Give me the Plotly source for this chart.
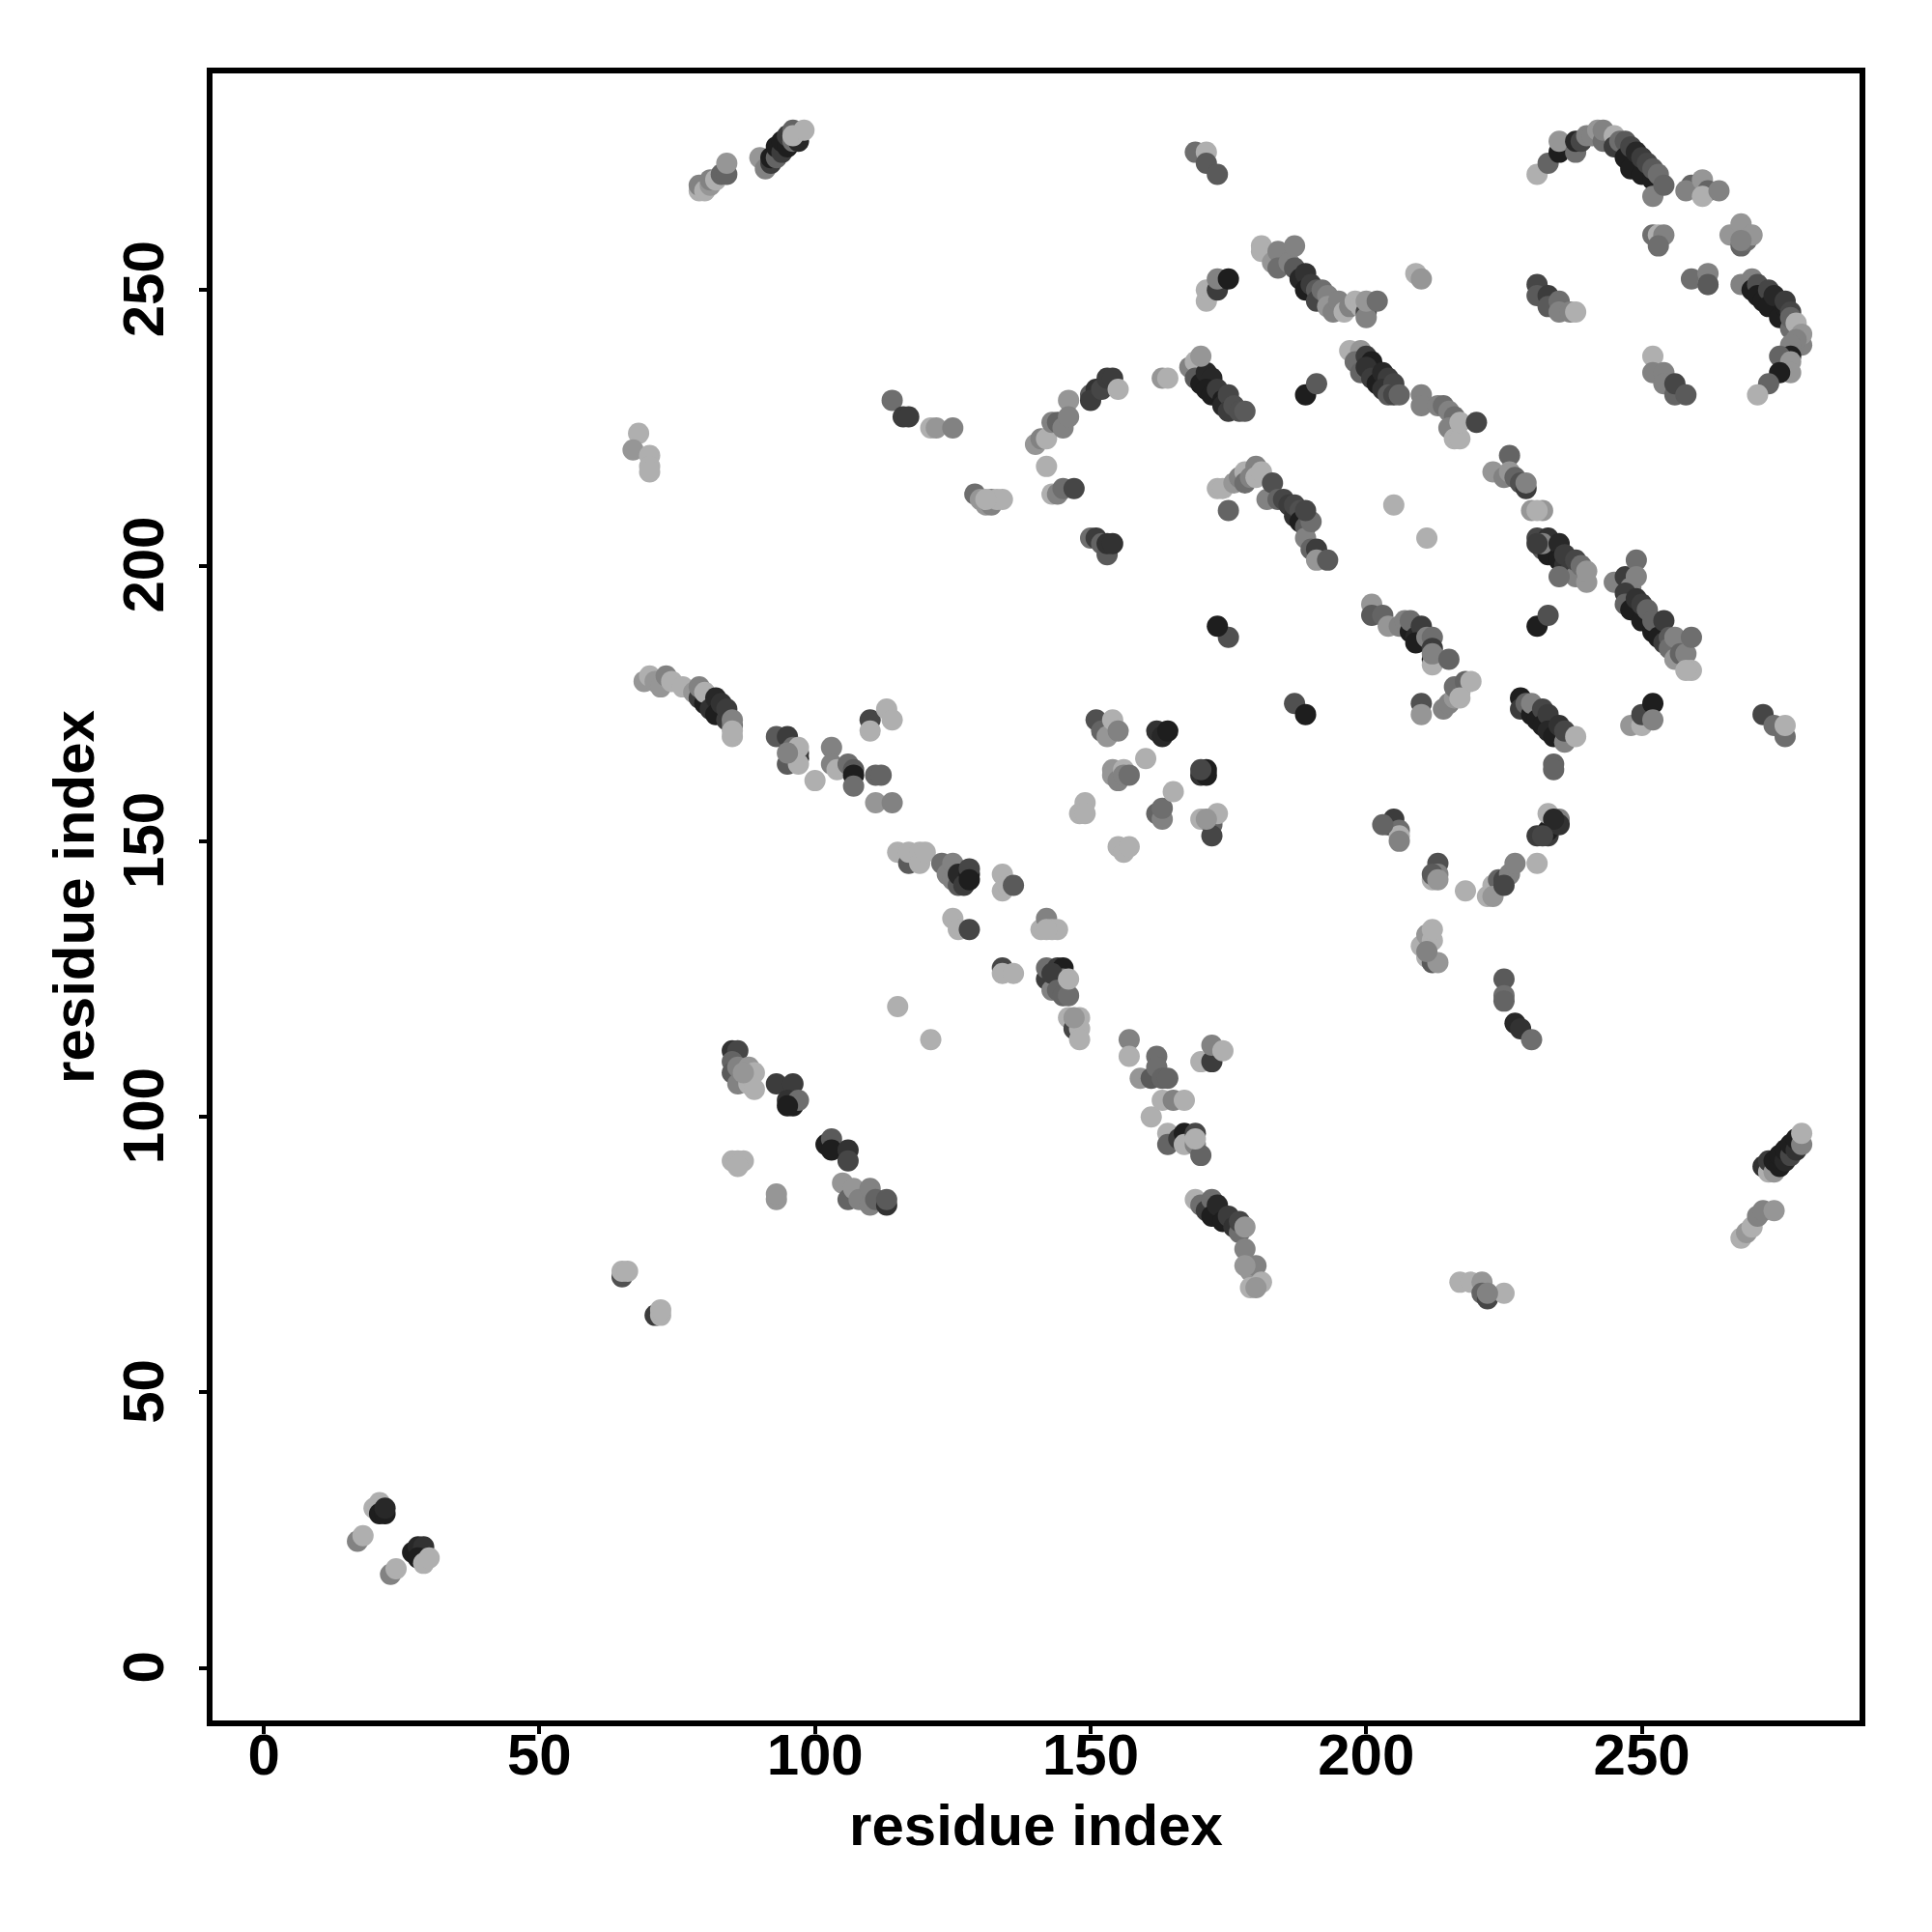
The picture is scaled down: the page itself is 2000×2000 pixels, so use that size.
import plotly.graph_objects as go

residue_i = [
 20,21,21,22,22, 17,18,23,24, 27,28,29,28,29,30,
 65,65,66, 71,72,72, 68,67,70,70,70,
 79,79,80,81,81,82,83,84,84,
 90,91,92,92,93,93,94,94,95,95,96,96,97,97,96,98,
 169,171,171,173,
 69,70,71,72,73,74,76,78,79,79,80,80,81,82,82,83,84,84,85,85,85,85,
 93,95,95,96,97,97,97,97,95,
 100,103,103,104,106,107,107,107,110,110,111,112,111,114,113,114,
 114,116,117,121,122,125,
 115,117,117,119,119,120,
 123,124,125,125,126,126,127,128,128,128,
 125,126,128, 134,134,135,136, 134,134,136,
 141,142,143,144,142,
 142,142,143,144,145,145,143,144,145,146,146,
 146,147,148,148,148,147, 115,121,
 157,157,159,161,162,162,163,164,161,163,165,167,164,164,166,167,167,169,169,170,169,
 170,172,172,174,
 169,170,171,172,172,173,174,175,176,177,177,178,178,179,179,180,181,180,178,
 85,86,85,85,86,86,88,88,89,89,87,
 85,86,87,86, 93,93,
 93,96,95,96,97,95,
 102,103,103,106,106,105,106,107,108,110,110,111,113,113,
 268,269,270,271,272,274,
 272,273,273,274,274,275,275,276,276,277,277,278,278,279,279,
 149,148,149,151,152,153,154,155,154,154,155,156,156,157,160,155,156,157,
 162,163,164,162,163,163,165,170,172,172,173,171,170,171,171,170,
 140,141,142,142,143,144,145,146,146,143,144,145,147,150,151,150,152,153,154,155,163,164,
 129,130,131,132,132,133,134,131,
 150,151,152,153,153,154,
 168,169,169,170,171,172,171,172,173,174,174,175,175,176,177,178,170,
 171,171,172,173,173,175,
 181,181,183,184,184,186,187,187,188,189,189,190,191,191,192,193,193,194,195,196,197,198,199,200,200,200,202,
 197,199,198,199,200,201,200,201,202,203,204,203,205,204,205,206,
 189,191,
 210,210,213,214,215,216,215,216,217,217,220,
 209,210,
 231,231,233,233,235,235,237,238,
 252,252,254,254,256,256,258,
 231,233,235,235,238,238,239,240,241,242,243,243,245,245,246,247,247,248,248,249,250,250,251,252,252,253,252,254,
 259,258,261,262,261,264,
 252,253,254,253,
 266,268,268,269,270,268,
 259,262,262,262,
 268,270,270,271,271,272,273,273,274,275,276,276,277,277,277,278,279,279,278,277,277,275,277,277,275,273,271,
 173,175,174,176,177,178,178,179,180,180,181,
 182,183,184,185,186,187,187,188,188,189,189,190,190,191,191,193,189,
 205,211,
 201,201,203,204,206,207,208,208,209,210,209,211,212,212,212,212,212,215,
 210,210,214,215,216,217,216,218,219,217,
 175,173, 187,189, 231,233,
 226,223,225,226,227,228,229,229,230,232,231,
 231,232,233,233,232,235,235,236,236,237,238,238,239,240,240,235,231,
 245,247,248,249,249,247,247,248,249,250,250,251,252,252,253,254,254,255,255,256,256,257,258,259,259,258,
 228,228,229,230,230,231,232,232,233,233,234,235,236,236,238,234,234,
 248,250,250,252,252,
 272,274,276,276,
 204,205,206,206,206,203,
 213,213,212,212,213,
 218,222,223,224,223,225,226,227,231,225,
 231,233,233,233,235,235,234,232,
 210,211,211,212,212,212,213,211,
 225,225,225,227,228,230,
 217,219,221,221,222,225,222,
]
residue_j = [
 29,30,28,28,29, 23,24,17,18, 21,22,22,20,19,20,
 71,72,72, 64,64,65, 224,221,220,218,217,
 268,269,268,269,270,270,271,271,273,
 274,272,273,274,274,276,275,277,276,278,277,279,278,277,278,279,
 275,275,273,271,
 179,180,179,178,180,179,178,177,176,178,175,177,174,176,173,175,172,174,171,172,169,170,
 169,169,164,167,165,166,167,164,166,
 161,167,164,163,164,163,162,160,172,170,162,162,157,157,174,172,
 230,227,227,225,225,225,
 148,146,148,148,146,148,
 146,144,146,143,142,144,142,144,145,143,
 136,134,134, 144,141,142,142, 127,126,126,
 134,136,134,134,134,
 125,127,123,127,127,125,126,123,122,122,125,
 118,116,118,116,114,118, 120,114,
 114,111,107,107,111,109,107,107,100,103,103,103,97,95,96,97,95,97,95,93,96,
 110,110,113,112,
 85,84,83,85,82,84,81,82,80,79,81,76,80,72,69,73,70,69,73,
 112,112,110,108,109,106,109,106,108,105,108,
 92,92,92,91, 85,86,
 106,106,103,102,103,102,
 95,96,94,94,92,88,85,87,85,87,84,85,84,85,
 78,79,80,82,83,83,
 91,90,92,90,92,91,93,92,94,93,95,94,96,95,97,
 157,155,155,172,170,169,172,170,163,162,161,163,162,162,165,149,148,149,
 170,169,170,155,154,156,159,154,153,151,155,154,162,163,162,163,
 222,223,223,218,226,226,225,230,227,213,213,214,214,231,232,230,232,234,234,232,234,234,
 213,212,211,212,211,212,212,212,
 205,205,204,202,204,204,
 236,237,234,233,235,234,232,231,232,230,229,231,228,229,228,228,238,
 248,250,250,250,252,252,
 258,257,255,257,254,255,258,254,252,253,250,251,250,248,250,249,247,246,248,246,247,248,247,246,245,248,248,
 239,239,237,235,238,237,236,234,233,235,234,232,233,231,231,231,
 231,233,
 231,229,229,229,228,227,225,223,223,226,226,
 253,252,
 251,249,249,247,248,246,246,246,
 238,235,235,233,231,233,231,
 271,273,275,277,275,277,277,278,278,279,277,279,278,276,277,277,274,276,272,275,271,274,273,270,272,271,267,269,
 269,268,270,268,267,268,
 260,260,260,258,
 260,262,258,259,260,259,
 252,251,253,251,
 251,252,250,251,249,248,250,247,249,245,247,248,246,243,245,244,240,242,241,240,238,238,237,235,235,233,231,
 214,210,214,215,216,217,215,216,218,216,217,
 212,215,212,212,211,209,211,210,208,207,205,203,208,203,201,201,210,
 211,205,
 193,191,191,189,189,190,188,190,187,189,186,187,187,185,183,182,184,183,
 175,173,174,175,176,177,178,179,179,176,
 187,189, 175,173, 189,191,
 220,217,216,217,216,215,214,215,210,210,210,
 205,203,205,202,204,204,201,200,202,199,198,201,200,197,199,198,204,
 197,198,196,201,198,195,193,192,194,190,193,192,188,190,187,190,186,187,185,183,187,184,184,181,187,181,
 176,174,175,173,175,172,174,171,173,170,169,171,168,170,169,164,163,
 171,171,173,175,172,
 173,171,169,171,
 153,154,152,151,150,153,
 146,144,143,144,143,
 141,140,142,143,140,143,144,146,146,142,
 151,151,152,155,154,153,154,151,
 131,129,133,132,134,128,128,130,
 125,122,121,117,116,114,
 70,70,70,68,67,68,68,
]
shade = [
 175,175,30,30,40, 130,175,130,175, 30,40,50,30,175,175,
 80,175,175, 60,175,175, 175,150,175,175,175,
 175,130,175,150,130,175,100,100,150,
 150,130,60,30,100,30,60,30,30,60,110,100,90,40,175,175,
 110,175,90,90,
 150,175,150,150,130,175,175,150,60,130,30,175,50,40,30,50,60,60,110,130,175,175,
 90,60,90,110,30,60,175,175,130,
 175,130,130,175,110,90,30,110,70,175,100,100,150,130,175,175,
 110,60,60,175,150,130,
 175,90,175,175,175,175,
 110,130,130,130,90,40,60,30,70,30,
 175,175,70, 175,175,175,90, 70,175,175,
 175,130,175,175,175,
 60,110,130,60,30,130,60,100,100,110,175,
 175,70,175,175,175,150, 175,175,
 130,175,150,90,110,110,100,100,175,175,130,175,175,100,60,30,175,70,130,100,175,
 175,60,130,175,
 175,110,60,110,30,40,30,60,50,110,70,130,150,150,175,130,175,150,150,
 50,70,100,90,130,130,150,175,175,175,150,
 175,175,175,175, 150,150,
 60,60,50,30,110,30,
 30,90,30,50,70,150,100,150,130,130,130,100,50,90,
 175,150,175,130,130,150,
 50,175,60,150,30,30,30,40,30,70,30,50,30,130,175,
 175,175,175,80,100,150,175,130,150,150,130,175,130,110,175,175,175,175,
 50,40,30,100,130,110,175,175,100,70,175,150,50,30,30,70,
 150,130,175,175,130,100,130,150,130,175,130,110,70,90,50,60,70,60,60,175,150,175,
 110,150,150,130,130,175,175,175,
 110,60,100,90,50,50,
 130,175,90,30,40,40,30,30,60,30,40,70,60,80,80,90,150,
 175,175,175,60,130,30,
 175,175,150,130,110,130,130,90,40,50,30,60,90,70,110,130,150,130,130,175,130,175,175,70,130,150,110,
 175,150,110,100,60,30,50,60,30,40,60,50,70,90,70,100,
 30,90,
 130,130,130,110,130,110,130,175,175,175,70,
 175,150,
 70,90,60,90,110,130,130,175,
 175,130,130,130,100,70,90,
 175,100,30,150,110,40,70,130,130,150,110,130,175,60,110,90,30,70,30,40,30,60,70,30,90,110,130,100,
 100,130,150,100,175,130,
 110,175,130,110,
 150,150,100,110,150,130,
 110,175,130,90,
 130,130,30,80,30,30,70,30,40,30,30,60,70,110,100,175,130,150,130,130,30,100,150,150,30,100,175,
 175,100,175,150,130,175,110,130,130,175,175,
 130,80,100,70,60,50,70,80,30,90,130,100,110,60,150,90,70,
 175,175,
 150,90,100,150,130,130,30,110,40,60,30,130,110,60,30,175,130,100,
 80,150,130,130,150,175,110,100,175,175,
 80,30, 80,30, 30,80,
 100,150,130,150,100,80,60,130,150,150,175,
 70,90,50,30,130,40,30,50,60,60,130,70,110,150,150,110,60,
 130,60,130,110,130,60,100,30,50,30,60,100,30,100,30,60,60,90,110,150,130,100,130,175,110,175,
 30,60,100,30,130,30,70,30,60,40,30,50,130,70,175,100,100,
 150,175,70,30,130,
 70,110,110,175,
 60,60,110,175,130,100,
 80,130,175,90,150,
 175,175,175,100,150,70,130,130,175,70,
 60,60,30,175,130,50,40,70,
 175,175,150,175,175,90,150,130,
 90,110,100,40,50,110,
 175,175,150,100,70,175,130,
]
tick_values = [0, 50, 100, 150, 200, 250]
axis_label = "residue index"

assert len(residue_i) == len(residue_j) == len(shade), (len(residue_i), len(residue_j), len(shade))

font = dict(family="Liberation Sans", size=60, color="black", weight=700)
axis = dict(tickmode="array", tickvals=tick_values, ticks="outside",
            ticklen=8, tickwidth=4, tickcolor="black", showline=True, linewidth=6,
            linecolor="black", mirror=True, showgrid=False, zeroline=False,
            tickfont=font, title=dict(text=axis_label, font=font))
fig = go.Figure(go.Scatter(x=residue_i, y=residue_j, mode="markers",
    marker=dict(size=22, line=dict(width=0), color=[f"rgb({s},{s},{s})" for s in shade]),
    hoverinfo="skip"))
fig.update_layout(width=2000, height=2000, autosize=False, showlegend=False,
    paper_bgcolor="white", plot_bgcolor="white",
    margin=dict(l=212, r=83, t=68, b=227, autoexpand=False))
fig.update_xaxes(**axis)
fig.update_yaxes(**axis)
fig.update_xaxes(range=[-9.3, 289.5], title_standoff=21, ticklabelstandoff=-30)
fig.update_yaxes(range=[-9.5, 289.3], tickangle=-90, title_standoff=0, ticklabelstandoff=13,
                 ticklabelshift=8)
fig.write_html("out.html")
